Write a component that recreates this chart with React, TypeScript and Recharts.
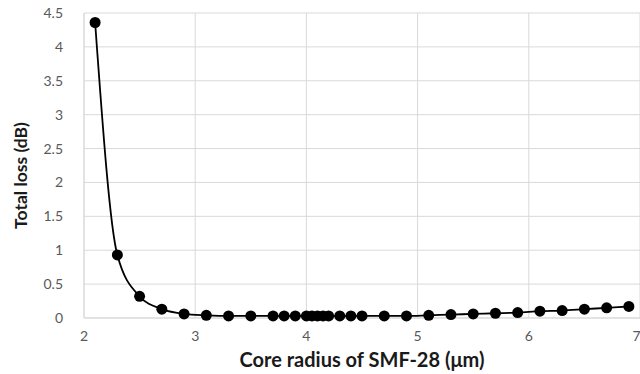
import React from 'react';
import { LineChart, Line, XAxis, YAxis, CartesianGrid } from 'recharts';

const coreRadius = [2.1, 2.3, 2.5, 2.7, 2.9, 3.1, 3.3, 3.5, 3.7, 3.8, 3.9, 4.0, 4.05, 4.1, 4.15, 4.2, 4.3, 4.4, 4.5, 4.7, 4.9, 5.1, 5.3, 5.5, 5.7, 5.9, 6.1, 6.3, 6.5, 6.7, 6.9];
const totalLoss = [4.36, 0.93, 0.32, 0.13, 0.06, 0.04, 0.03, 0.03, 0.03, 0.03, 0.03, 0.03, 0.03, 0.03, 0.03, 0.03, 0.03, 0.03, 0.03, 0.03, 0.03, 0.04, 0.05, 0.06, 0.07, 0.08, 0.1, 0.11, 0.13, 0.15, 0.17];
const xTicks = [2, 3, 4, 5, 6, 7];
const yTicks = [0, 0.5, 1, 1.5, 2, 2.5, 3, 3.5, 4, 4.5];

const data = coreRadius.map((x, i) => ({ x, y: totalLoss[i] }));

const FONT = 'Lato, "Open Sans", sans-serif';

const YTitle = (props: any) => {
  const vb = props.viewBox || { x: 0, y: 0, width: 0, height: 0 };
  const cx = 20;
  const cy = vb.y + vb.height / 2 + 10;
  return (
    <text
      x={cx}
      y={cy}
      transform={`rotate(-90, ${cx}, ${cy})`}
      textAnchor="middle"
      dominantBaseline="central"
      fill="#1a1a1a"
      fontSize={17.5}
      fontWeight={700}
      fontFamily={FONT}
    >
      Total loss (dB)
    </text>
  );
};

export default function App() {
  return (
    <div style={{ position: 'absolute', left: 0, top: 0, background: '#fff' }}>
      <LineChart width={640} height={374} data={data} margin={{ top: 13, right: 0, bottom: 0, left: 0 }}>
        <CartesianGrid stroke="#d9d9d9" strokeWidth={1} />
        <XAxis
          dataKey="x"
          type="number"
          domain={[2, 7]}
          ticks={xTicks}
          height={56}
          axisLine={{ stroke: '#d9d9d9' }}
          tickLine={false}
          tick={{ fill: '#595959', fontSize: 14, fontFamily: FONT }}
          tickMargin={7}
          label={{ value: 'Core radius of SMF-28 (μm)', position: 'insideBottom', offset: 7, style: { fill: '#1a1a1a', fontSize: 20, fontWeight: 700, fontFamily: FONT } }}
        />
        <YAxis
          type="number"
          domain={[0, 4.5]}
          ticks={yTicks}
          width={84}
          axisLine={{ stroke: '#d9d9d9' }}
          tickLine={false}
          tick={{ fill: '#595959', fontSize: 14, fontFamily: FONT }}
          tickMargin={15}
          label={{ content: YTitle }}
        />
        <Line
          dataKey="y"
          type="monotone"
          stroke="#000"
          strokeWidth={1.8}
          dot={{ r: 5.5, fill: '#000', stroke: '#000', strokeWidth: 0 }}
          isAnimationActive={false}
        />
      </LineChart>
    </div>
  );
}
